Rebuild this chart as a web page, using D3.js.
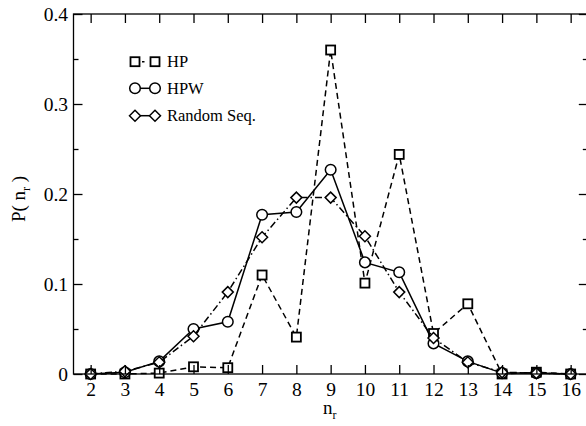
<!DOCTYPE html>
<html><head><meta charset="utf-8">
<script src="https://cdn.jsdelivr.net/npm/d3@7"></script>
<style>body{margin:0;background:#fff;} svg{display:block;}</style>
</head><body>
<svg id="c" width="586" height="426"></svg>
<script>
const nr = [2,3,4,5,6,7,8,9,10,11,12,13,14,15,16];
const hp = [0,0,0.001,0.008,0.007,0.110,0.041,0.360,0.101,0.244,0.045,0.078,0,0.002,0];
const hpw = [0,0.002,0.014,0.050,0.058,0.177,0.180,0.227,0.124,0.113,0.034,0.014,0.001,0.001,0];
const rnd = [0,0.003,0.013,0.042,0.091,0.152,0.196,0.196,0.153,0.091,0.040,0.013,0.002,0.001,0];
const xTicks = [2,3,4,5,6,7,8,9,10,11,12,13,14,15,16];
const yTicks = [0,0.1,0.2,0.3,0.4];
const yMinor = [0.05,0.15,0.25,0.35];
const seriesNames = ["HP","HPW","Random Seq."];

const svg = d3.select("#c");
const FONT = "Liberation Serif";
const x = d3.scaleLinear().domain([1.5,16.5]).range([73.5,587.8]);
const y = d3.scaleLinear().domain([0,0.4]).range([374,14]);

const series = [
  {name:seriesNames[0], vals:hp, dash:"6,4", sym:"square"},
  {name:seriesNames[1], vals:hpw, dash:null, sym:"circle"},
  {name:seriesNames[2], vals:rnd, dash:"7,3,1.5,3", sym:"diamond"}
];

function drawSym(g, sym, cx, cy){
  if(sym==="square"){
    g.append("rect").attr("x",cx-4.5).attr("y",cy-4.5).attr("width",9).attr("height",9)
     .attr("fill","#fff").attr("stroke","#000").attr("stroke-width",1.8);
  } else if(sym==="circle"){
    g.append("circle").attr("cx",cx).attr("cy",cy).attr("r",5.3)
     .attr("fill","#fff").attr("stroke","#000").attr("stroke-width",1.5);
  } else {
    const r=5.5;
    g.append("path").attr("d",`M${cx-r},${cy}L${cx},${cy-r}L${cx+r},${cy}L${cx},${cy+r}Z`)
     .attr("fill","#fff").attr("stroke","#000").attr("stroke-width",1.5);
  }
}

const line = d3.line().x((d,i)=>x(nr[i])).y(d=>y(d));
series.forEach(s=>{
  const g = svg.append("g");
  g.append("path").datum(s.vals).attr("d",line).attr("fill","none")
   .attr("stroke","#000").attr("stroke-width",1.5)
   .attr("stroke-dasharray",s.dash);
  s.vals.forEach((v,i)=>drawSym(g,s.sym,x(nr[i]),y(v)));
});

// frame
svg.append("rect").attr("x",73.5).attr("y",14).attr("width",587.8-73.5).attr("height",360)
  .attr("fill","none").attr("stroke","#000").attr("stroke-width",1.3);

function styleAxis(g){
  g.select(".domain").remove();
  g.attr("font-family",FONT).attr("font-size",19.5);
  g.selectAll(".tick line").attr("stroke","#000").attr("stroke-width",1.3);
  g.selectAll("text").style("font-family",FONT).style("font-size","19.5px").attr("fill","#000");
}
const xb = svg.append("g").attr("transform","translate(0,374)")
  .call(d3.axisBottom(x).tickValues(xTicks).tickSize(-9).tickPadding(8).tickFormat(d3.format("d")));
styleAxis(xb);
const xt = svg.append("g").attr("transform","translate(0,14)")
  .call(d3.axisTop(x).tickValues(xTicks).tickSize(-9).tickFormat(""));
styleAxis(xt);
const yl = svg.append("g").attr("transform","translate(73.5,0)")
  .call(d3.axisLeft(y).tickValues(yTicks).tickSize(-9).tickPadding(5.5).tickFormat(d=>d===0?"0":d3.format(".1f")(d)));
styleAxis(yl);
const ylm = svg.append("g").attr("transform","translate(73.5,0)")
  .call(d3.axisLeft(y).tickValues(yMinor).tickSize(-5).tickFormat(""));
styleAxis(ylm);
const yr = svg.append("g").attr("transform","translate(587.8,0)")
  .call(d3.axisRight(y).tickValues(yTicks).tickSize(-9).tickFormat(""));
styleAxis(yr);
const yrm = svg.append("g").attr("transform","translate(587.8,0)")
  .call(d3.axisRight(y).tickValues(yMinor).tickSize(-5).tickFormat(""));
styleAxis(yrm);

// axis titles
const xt2 = svg.append("text").attr("x",323).attr("y",414).style("font-family",FONT).style("font-size","19px");
xt2.append("tspan").text("n");
xt2.append("tspan").style("font-size","12px").attr("dy",5).text("r");

const yt = svg.append("text").attr("transform","translate(25,199) rotate(-90)")
  .attr("text-anchor","middle").style("font-family",FONT).style("font-size","19px");
yt.append("tspan").text("P( n");
yt.append("tspan").style("font-size","12px").attr("dy",5).text("r");
yt.append("tspan").attr("dy",-5).text(" )");

// legend
const legY = [61.7,88.3,115.7];
series.forEach((s,i)=>{
  const g = svg.append("g");
  const ly = legY[i];
  g.append("line").attr("x1",135).attr("x2",155).attr("y1",ly).attr("y2",ly)
   .attr("stroke","#000").attr("stroke-width",1.5).attr("stroke-dasharray",i===0?"0,7,2.5,20":null);
  drawSym(g,s.sym,135,ly);
  drawSym(g,s.sym,155,ly);
  g.append("text").attr("x",167).attr("y",ly+5.5).style("font-family",FONT).style("font-size","16.5px").text(s.name);
});
</script>
</body></html>
